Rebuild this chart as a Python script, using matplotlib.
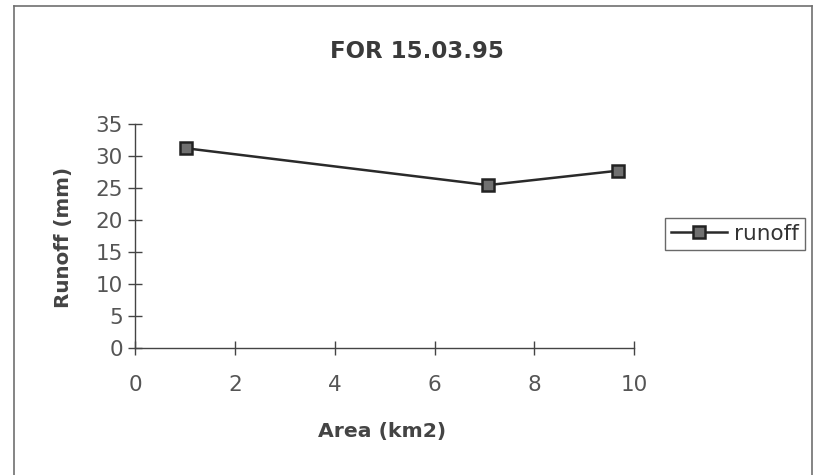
import matplotlib.pyplot as plt
from matplotlib.lines import Line2D

# data
area = [1.02, 7.07, 9.68]
runoff = [31.25, 25.5, 27.75]
x_ticks = [0, 2, 4, 6, 8, 10]
y_ticks = [0, 5, 10, 15, 20, 25, 30, 35]

plt.rcParams['font.family'] = ['DejaVu Sans']

W, H = 815, 475
fig = plt.figure(figsize=(W / 100, H / 100), dpi=100)
fig.patch.set_facecolor('white')

# outer chart frame (left, top, right; bottom runs off the image)
frame_kw = dict(color='#707070', lw=1.2, transform=fig.transFigure)
fig.add_artist(Line2D([14 / W, 14 / W], [0, 1 - 6 / H], **frame_kw))
fig.add_artist(Line2D([14 / W, 812 / W], [1 - 6 / H, 1 - 6 / H], **frame_kw))
fig.add_artist(Line2D([812 / W, 812 / W], [0, 1 - 6 / H], **frame_kw))

ax = fig.add_axes([135.4 / W, 1 - 348.3 / H, (634 - 135.4) / W, (348.3 - 124.3) / H])
ax.plot(area, runoff, color='#2a2a2a', lw=1.8, marker='s', markersize=9,
        markerfacecolor='#707070', markeredgecolor='#222222', markeredgewidth=1.8,
        label='runoff', clip_on=False)

ax.set_xlim(0, 10)
ax.set_ylim(0, 35)
ax.set_xticks(x_ticks)
ax.set_yticks(y_ticks)
for s in ['top', 'right']:
    ax.spines[s].set_visible(False)
for s in ['left', 'bottom']:
    ax.spines[s].set_color('#444444')
    ax.spines[s].set_linewidth(1.0)
ax.tick_params(direction='inout', length=10, width=1.0, color='#444444',
               labelsize=15.5, labelcolor='#555555', pad=4)
ax.tick_params(axis='x', pad=14)

fig.text(417 / W, 1 - 51 / H, 'FOR 15.03.95', fontsize=16.5, fontweight='bold',
         color='#3a3a3a', ha='center', va='center')
fig.text(382.5 / W, 1 - 432 / H, 'Area (km2)', fontsize=14.7, fontweight='bold',
         color='#444444', ha='center', va='center')
fig.text(63 / W, 1 - 237.5 / H, 'Runoff (mm)', fontsize=14.3, fontweight='bold',
         rotation=90, color='#444444', ha='center', va='center')

leg = ax.legend(loc='center left', bbox_to_anchor=(665 / W, 1 - 234 / H),
                bbox_transform=fig.transFigure, fontsize=15.5, frameon=True,
                fancybox=False, handlelength=2.6, borderpad=0.3,
                handletextpad=0.3, borderaxespad=0, labelcolor='#333333')
leg.get_frame().set_edgecolor('#444444')
leg.get_frame().set_linewidth(1.0)

fig.savefig('out.png', dpi=100)
